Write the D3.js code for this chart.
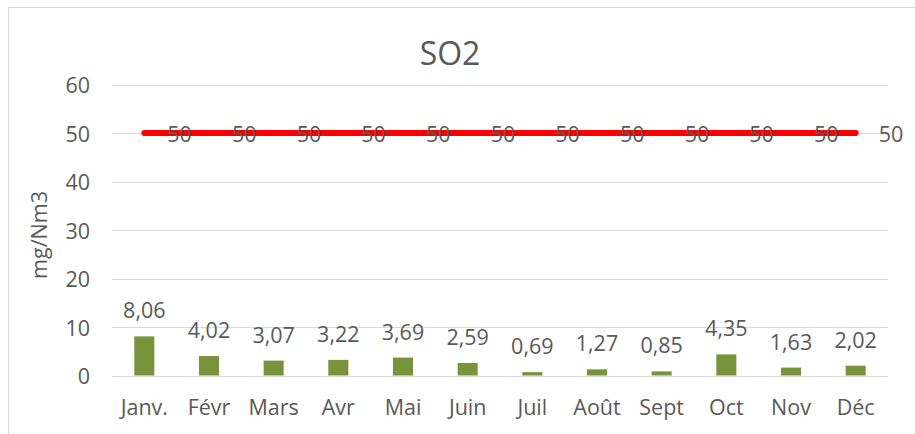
<!DOCTYPE html>
<html>
<head>
<meta charset="utf-8">
<script src="https://cdn.jsdelivr.net/npm/d3@7"></script>
<style>
  body { margin: 0; background: #fff; }
  text { font-family: "Open Sans", "Noto Sans", sans-serif; fill: #595959; }
</style>
</head>
<body>
<svg width="915" height="434"></svg>
<script>
const months = ["Janv.", "Févr", "Mars", "Avr", "Mai", "Juin", "Juil", "Août", "Sept", "Oct", "Nov", "Déc"];
const so2Values = [8.06, 4.02, 3.07, 3.22, 3.69, 2.59, 0.69, 1.27, 0.85, 4.35, 1.63, 2.02];
const limitValues = [50, 50, 50, 50, 50, 50, 50, 50, 50, 50, 50, 50];
const yTicks = [0, 10, 20, 30, 40, 50, 60];

const svg = d3.select("svg"),
    width = +svg.attr("width"),
    height = +svg.attr("height");

const fmt = (v) => d3.format(".2f")(v).replace(".", ",");
const fs = "21.5px";

// chart frame
svg.append("rect")
  .attr("x", 8.5).attr("y", 7.5)
  .attr("width", width + 20).attr("height", height + 20)
  .attr("fill", "none").attr("stroke", "#d9d9d9");

const x = d3.scaleBand().domain(months).range([112, 888])
  .paddingInner(0.69).paddingOuter(0.345);
const y = d3.scaleLinear().domain([0, 60]).range([375.5, 84.5]);

// gridlines
svg.append("g").selectAll("line").data(yTicks).enter().append("line")
  .attr("x1", 112).attr("x2", 888)
  .attr("y1", (d) => Math.round(y(d)) + 0.5)
  .attr("y2", (d) => Math.round(y(d)) + 0.5)
  .attr("stroke", "#d9d9d9").attr("stroke-width", 1.2);

// y tick labels
svg.append("g").selectAll("text").data(yTicks).enter().append("text")
  .attr("x", 90).attr("y", (d) => y(d))
  .attr("text-anchor", "end").attr("dominant-baseline", "central")
  .style("font-size", fs)
  .text((d) => d);

// x labels
svg.append("g").selectAll("text").data(months).enter().append("text")
  .attr("x", (d) => x(d) + x.bandwidth() / 2).attr("y", 415)
  .attr("text-anchor", "middle")
  .style("font-size", fs)
  .text((d) => d);

// bars
svg.append("g").selectAll("rect").data(so2Values).enter().append("rect")
  .attr("x", (d, i) => x(months[i]))
  .attr("width", x.bandwidth())
  .attr("y", (d) => y(d))
  .attr("height", (d) => y(0) - y(d))
  .attr("fill", "#77933c");

// bar labels
svg.append("g").selectAll("text").data(so2Values).enter().append("text")
  .attr("x", (d, i) => x(months[i]) + x.bandwidth() / 2)
  .attr("y", (d) => y(d) - 18)
  .attr("text-anchor", "middle")
  .style("font-size", fs)
  .text((d) => fmt(d));

// limit line
const line = d3.line()
  .x((d, i) => x(months[i]) + x.bandwidth() / 2)
  .y((d) => y(d));

svg.append("path").datum(limitValues)
  .attr("d", line)
  .attr("fill", "none").attr("stroke", "#ff0000")
  .attr("stroke-width", 6).attr("stroke-linecap", "round");

svg.append("g").selectAll("text").data(limitValues).enter().append("text")
  .attr("x", (d, i) => x(months[i]) + x.bandwidth() / 2 + 23)
  .attr("y", (d) => y(d))
  .attr("dominant-baseline", "central")
  .style("font-size", fs)
  .text((d) => d);

// title
svg.append("text")
  .attr("x", 450).attr("y", 65)
  .attr("text-anchor", "middle")
  .style("font-size", "32px")
  .text("SO2");

// y axis title
svg.append("text")
  .attr("transform", "translate(47,235) rotate(-90)")
  .attr("text-anchor", "middle")
  .style("font-size", fs)
  .text("mg/Nm3");
</script>
</body>
</html>
